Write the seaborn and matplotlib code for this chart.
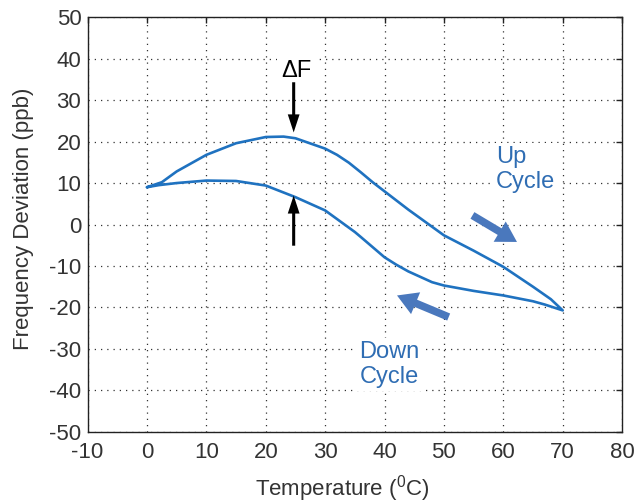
import matplotlib
matplotlib.use("Agg")
import matplotlib.pyplot as plt
import seaborn as sns
import pandas as pd

# Data
up_temp = [0, 2.5, 5, 10, 15, 20, 23, 25, 30, 32, 34, 36, 38, 40, 42, 44, 47, 50, 55, 60, 65, 68, 70]
up_dev = [9, 10.2, 12.8, 16.8, 19.6, 21.1, 21.2, 20.8, 18.3, 16.8, 14.9, 12.6, 10.2, 8, 5.8, 3.6, 0.5,
          -2.6, -6.3, -10.2, -15, -18, -20.7]
down_temp = [70, 67, 65, 60, 55, 50, 48, 46, 44, 42, 40, 36, 35, 30, 25, 20, 15, 10, 5, 2, 0]
down_dev = [-20.7, -19.3, -18.5, -17.1, -16, -14.7, -13.9, -12.6, -11.3, -9.7, -7.9, -3, -1.8, 3.4, 6.6,
            9.4, 10.5, 10.6, 10, 9.5, 9]

x_ticks = [-10, 0, 10, 20, 30, 40, 50, 60, 70, 80]
y_ticks = [-50, -40, -30, -20, -10, 0, 10, 20, 30, 40, 50]

sns.set_style("white")
plt.rcParams['font.family'] = ['Liberation Sans', 'DejaVu Sans']
plt.rcParams['mathtext.fontset'] = 'custom'
plt.rcParams['mathtext.rm'] = 'Liberation Sans'
plt.rcParams['mathtext.it'] = 'Liberation Sans'
plt.rcParams['axes.unicode_minus'] = False

df = pd.DataFrame({
    "Temperature": up_temp + down_temp,
    "Deviation": up_dev + down_dev,
})

fig = plt.figure(figsize=(6.44, 5.04), dpi=100)
ax = fig.add_axes([0.136, 0.143, 0.830, 0.823])

sns.lineplot(data=df, x="Temperature", y="Deviation", sort=False, estimator=None,
             color="#1f72c0", linewidth=1.9, ax=ax, zorder=3)

ax.set_xlim(-10, 80)
ax.set_ylim(-50, 50)
ax.set_xticks(x_ticks)
ax.set_yticks(y_ticks)
ax.grid(True, color="#333333", linestyle=(0, (1, 4)), linewidth=0.9)
for s in ax.spines.values():
    s.set_color("#222222")
    s.set_linewidth(1.0)
ax.tick_params(direction="in", length=4, width=1, top=True, right=True,
               labelsize=16, colors="#222222")
ax.tick_params(axis="x", pad=7.5)
ax.tick_params(axis="y", pad=4.5)
for lab in ax.get_xticklabels() + ax.get_yticklabels():
    lab.set_color("#333333")
ax.set_xlabel(r"Temperature ($^{0}$C)", fontsize=16, color="#333333")
ax.set_ylabel("Frequency Deviation (ppb)", fontsize=16, color="#333333")
ax.xaxis.set_label_coords(0.476, -0.1)
ax.yaxis.set_label_coords(-0.1, 0.514)

# Delta F annotation
bb = dict(boxstyle="square,pad=0.15", fc="white", ec="none")
ax.text(25.1, 37.1, "ΔF", fontsize=17, ha="center", va="center", color="black", bbox=bb, zorder=4)
black_arrow = dict(arrowstyle="simple,tail_width=0.22,head_width=0.85,head_length=1.3",
                   color="black", lw=0, shrinkA=0, shrinkB=0)
ax.annotate("", xy=(24.7, 22.2), xytext=(24.7, 34.3), arrowprops=black_arrow, zorder=4)
ax.annotate("", xy=(24.7, 7.0), xytext=(24.7, -5.1), arrowprops=black_arrow, zorder=4)

txt_col = "#2f6db3"
ax.text(58.8, 13.3, "Up\nCycle", fontsize=17, ha="left", va="center", color=txt_col,
        linespacing=1.15, bbox=bb, zorder=4)
ax.text(35.8, -33.7, "Down\nCycle", fontsize=17, ha="left", va="center", color=txt_col,
        linespacing=1.15, bbox=bb, zorder=4)

blue_arrow = dict(arrowstyle="simple,tail_width=0.55,head_width=1.7,head_length=1.45",
                  color="#4a78bd", lw=0, shrinkA=0, shrinkB=0)
ax.annotate("", xy=(62.3, -4.2), xytext=(54.8, 2.2), arrowprops=blue_arrow, zorder=4)
ax.annotate("", xy=(42.1, -17.1), xytext=(50.8, -22.3), arrowprops=blue_arrow, zorder=4)

fig.savefig("out.png", dpi=100)
